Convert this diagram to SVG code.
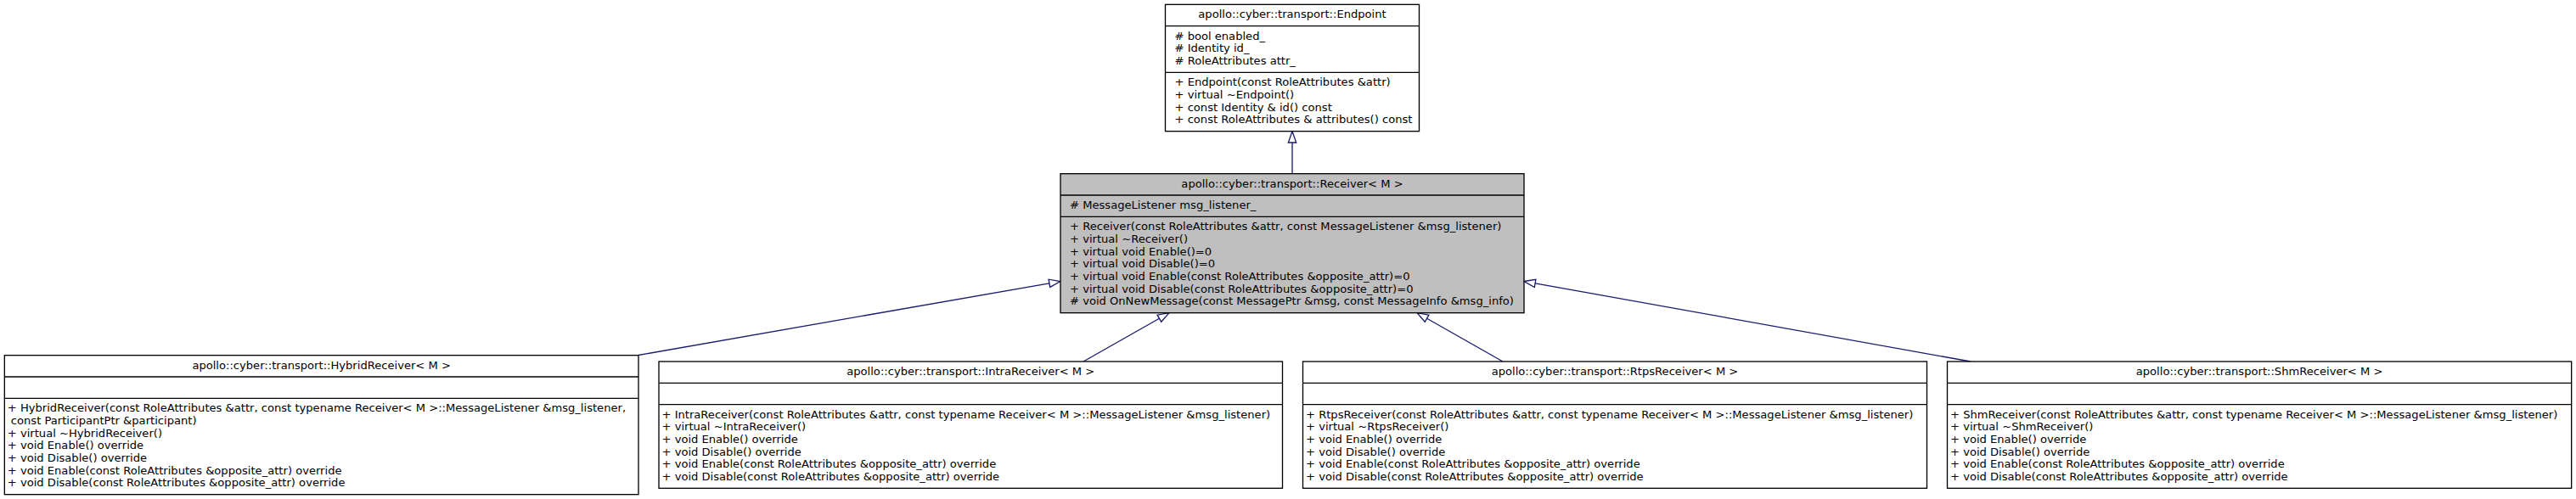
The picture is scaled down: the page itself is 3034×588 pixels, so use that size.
<svg xmlns="http://www.w3.org/2000/svg" width="3034" height="588" viewBox="0 0 3034 588">
<style>
.box{fill:#fff;stroke:#000;stroke-width:1.33}
.main{fill:#bfbfbf}
.div{fill:none;stroke:#000;stroke-width:1.33}
text{font-family:"DejaVu Sans",sans-serif;font-size:13.1px;fill:#000}
.t{text-anchor:middle}
.edge{fill:none;stroke:#191970;stroke-width:1.33}
.arrow{fill:#fff;stroke:#191970;stroke-width:1.33}
</style>
<rect width="3034" height="588" fill="#fff"/>
<g id="connectors">
<path class="edge" d="M1522,204.67 L1522,168"/>
<polygon class="arrow" points="1522,154.67 1526.67,168 1517.33,168"/>
<path class="edge" d="M752,418.5 L1235.9,333.8"/>
<polygon class="arrow" points="1249,331.5 1236.7,338.4 1235.1,329.2"/>
<path class="edge" d="M1276,426 L1365.4,375.25"/>
<polygon class="arrow" points="1377,368.67 1367.7,379.3 1363.1,371.2"/>
<path class="edge" d="M1770,426 L1680.6,375.25"/>
<polygon class="arrow" points="1669,368.67 1678.3,379.3 1682.9,371.2"/>
<path class="edge" d="M2321,426 L1808.1,333.86"/>
<polygon class="arrow" points="1795,331.5 1808.9,329.3 1807.3,338.5"/>
</g>
<g id="endpoint">
<rect class="box" x="1372.5" y="5.33" width="299" height="149.34"/>
<path class="div" d="M1372.5,30.67 H1671.5 M1372.5,85.33 H1671.5"/>
<text class="t" x="1522" y="21.33">apollo::cyber::transport::Endpoint</text>
<text x="1383.5" y="46.67"># bool enabled_</text>
<text x="1383.5" y="61.33"># Identity id_</text>
<text x="1383.5" y="76"># RoleAttributes attr_</text>
<text x="1383.5" y="101.33">+ Endpoint(const RoleAttributes &amp;attr)</text>
<text x="1383.5" y="116">+ virtual ~Endpoint()</text>
<text x="1383.5" y="130.67">+ const Identity &amp; id() const</text>
<text x="1383.5" y="145.33">+ const RoleAttributes &amp; attributes() const</text>
</g>
<g id="receiver">
<rect class="box main" x="1249" y="204.67" width="546" height="164"/>
<path class="div" d="M1249,230 H1795 M1249,255.33 H1795"/>
<text class="t" x="1522" y="220.67">apollo::cyber::transport::Receiver&lt; M &gt;</text>
<text x="1260" y="246"># MessageListener msg_listener_</text>
<text x="1260" y="271.33">+ Receiver(const RoleAttributes &amp;attr, const MessageListener &amp;msg_listener)</text>
<text x="1260" y="286">+ virtual ~Receiver()</text>
<text x="1260" y="300.67">+ virtual void Enable()=0</text>
<text x="1260" y="315.33">+ virtual void Disable()=0</text>
<text x="1260" y="330">+ virtual void Enable(const RoleAttributes &amp;opposite_attr)=0</text>
<text x="1260" y="344.67">+ virtual void Disable(const RoleAttributes &amp;opposite_attr)=0</text>
<text x="1260" y="359.33"># void OnNewMessage(const MessagePtr &amp;msg, const MessageInfo &amp;msg_info)</text>
</g>
<g id="hybrid">
<rect class="box" x="5.33" y="418.67" width="746.67" height="164"/>
<path class="div" d="M5.33,444 H752 M5.33,469.33 H752"/>
<text class="t" x="378.67" y="434.67">apollo::cyber::transport::HybridReceiver&lt; M &gt;</text>
<text x="8.8" y="485.33">+ HybridReceiver(const RoleAttributes &amp;attr, const typename Receiver&lt; M &gt;::MessageListener &amp;msg_listener,</text>
<text x="12.8" y="500">const ParticipantPtr &amp;participant)</text>
<text x="8.8" y="514.67">+ virtual ~HybridReceiver()</text>
<text x="8.8" y="529.33">+ void Enable() override</text>
<text x="8.8" y="544">+ void Disable() override</text>
<text x="8.8" y="558.67">+ void Enable(const RoleAttributes &amp;opposite_attr) override</text>
<text x="8.8" y="573.33">+ void Disable(const RoleAttributes &amp;opposite_attr) override</text>
</g>
<g id="intra">
<rect class="box" x="776" y="426" width="734.5" height="149.33"/>
<path class="div" d="M776,451.33 H1510.5 M776,476.67 H1510.5"/>
<text class="t" x="1143.25" y="442">apollo::cyber::transport::IntraReceiver&lt; M &gt;</text>
<text x="779.5" y="492.67">+ IntraReceiver(const RoleAttributes &amp;attr, const typename Receiver&lt; M &gt;::MessageListener &amp;msg_listener)</text>
<text x="779.5" y="507.33">+ virtual ~IntraReceiver()</text>
<text x="779.5" y="522">+ void Enable() override</text>
<text x="779.5" y="536.67">+ void Disable() override</text>
<text x="779.5" y="551.33">+ void Enable(const RoleAttributes &amp;opposite_attr) override</text>
<text x="779.5" y="566">+ void Disable(const RoleAttributes &amp;opposite_attr) override</text>
</g>
<g id="rtps">
<rect class="box" x="1534.5" y="426" width="735" height="149.33"/>
<path class="div" d="M1534.5,451.33 H2269.5 M1534.5,476.67 H2269.5"/>
<text class="t" x="1902" y="442">apollo::cyber::transport::RtpsReceiver&lt; M &gt;</text>
<text x="1538" y="492.67">+ RtpsReceiver(const RoleAttributes &amp;attr, const typename Receiver&lt; M &gt;::MessageListener &amp;msg_listener)</text>
<text x="1538" y="507.33">+ virtual ~RtpsReceiver()</text>
<text x="1538" y="522">+ void Enable() override</text>
<text x="1538" y="536.67">+ void Disable() override</text>
<text x="1538" y="551.33">+ void Enable(const RoleAttributes &amp;opposite_attr) override</text>
<text x="1538" y="566">+ void Disable(const RoleAttributes &amp;opposite_attr) override</text>
</g>
<g id="shm">
<rect class="box" x="2293.5" y="426" width="735.17" height="149.33"/>
<path class="div" d="M2293.5,451.33 H3028.67 M2293.5,476.67 H3028.67"/>
<text class="t" x="2661.1" y="442">apollo::cyber::transport::ShmReceiver&lt; M &gt;</text>
<text x="2297" y="492.67">+ ShmReceiver(const RoleAttributes &amp;attr, const typename Receiver&lt; M &gt;::MessageListener &amp;msg_listener)</text>
<text x="2297" y="507.33">+ virtual ~ShmReceiver()</text>
<text x="2297" y="522">+ void Enable() override</text>
<text x="2297" y="536.67">+ void Disable() override</text>
<text x="2297" y="551.33">+ void Enable(const RoleAttributes &amp;opposite_attr) override</text>
<text x="2297" y="566">+ void Disable(const RoleAttributes &amp;opposite_attr) override</text>
</g>
</svg>
